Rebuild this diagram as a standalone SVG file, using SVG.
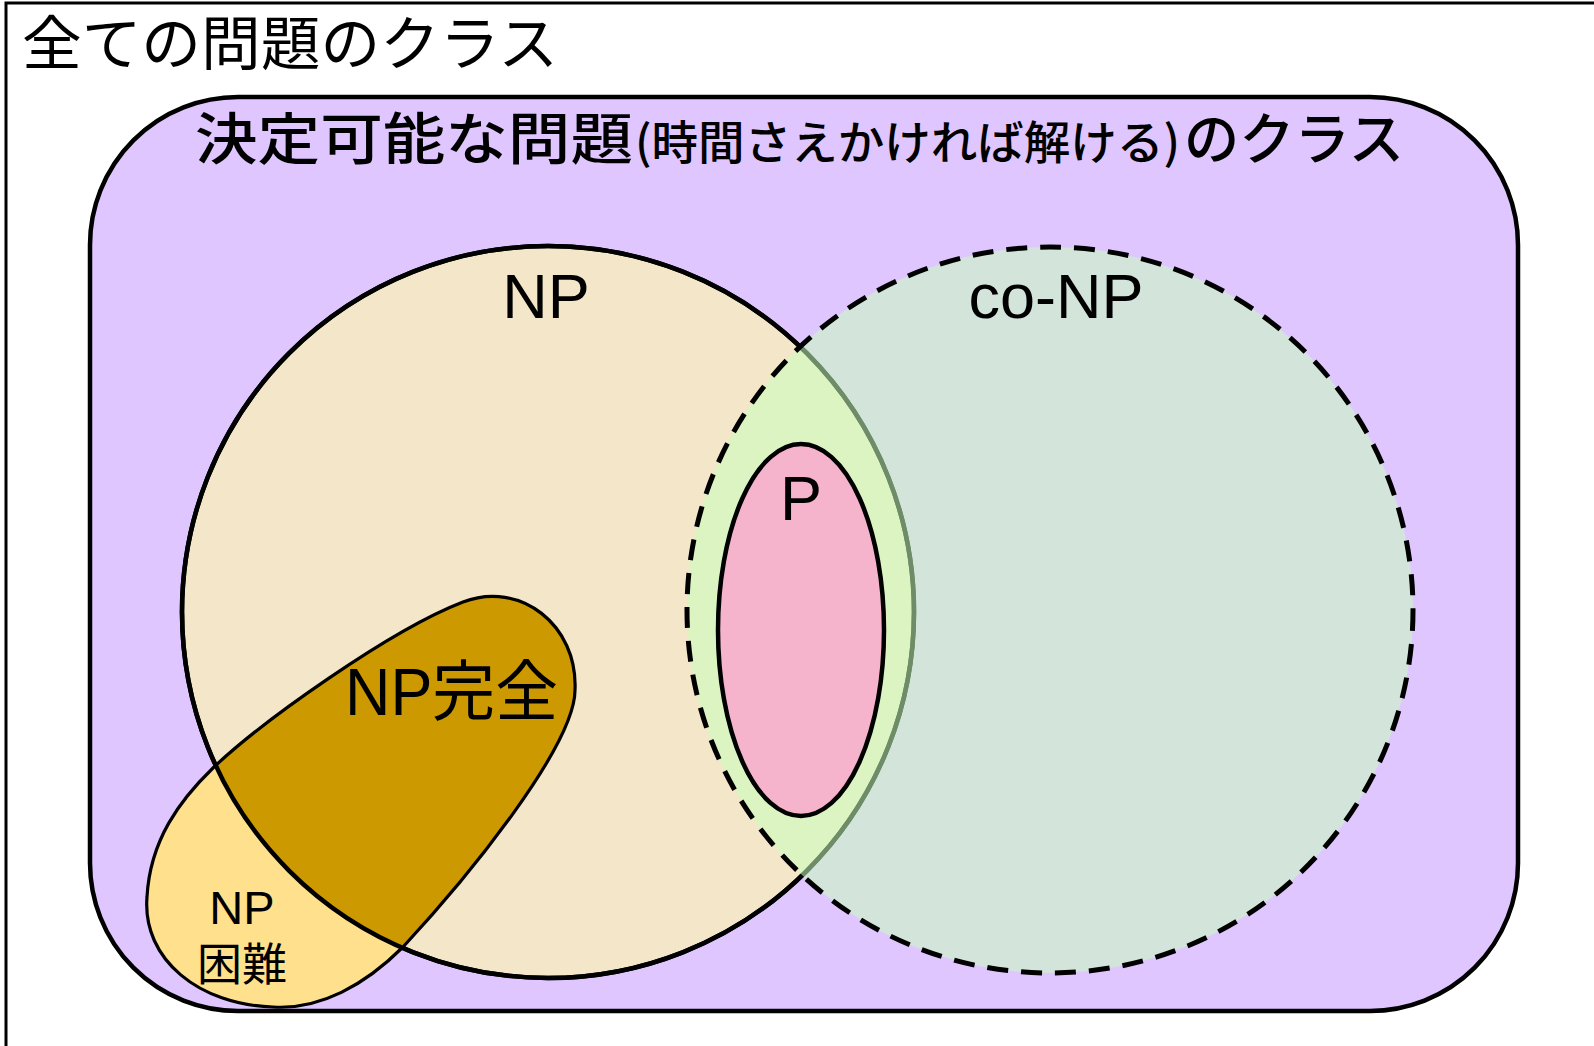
<svg xmlns="http://www.w3.org/2000/svg" width="1594" height="1046" viewBox="0 0 1594 1046">
  <style>
    .jp { font-family: "Noto Sans CJK JP", "Liberation Sans", sans-serif; fill: #000; }
    .lat { font-family: "Liberation Sans", "Noto Sans CJK JP", sans-serif; fill: #000; }
    .sub { font-weight: 500; }
    .ln { stroke: #000; stroke-width: 4.5; }
  </style>
  <defs>
    <clipPath id="npClip">
      <circle cx="548" cy="612" r="366"/>
    </clipPath>
    <path id="blobShape" d="M 463,602 C 520,580 578,625 575,690 C 575,745 470,875 403,947 C 365,985 320,1010 273,1007 C 200,1005 142,960 147,897 C 150,840 180,800 213,768 C 260,723 390,630 463,602 Z"/>
  </defs>

  <rect width="1594" height="1046" fill="#ffffff"/>

  <g id="frame">
    <path d="M 6,1046 V 3 H 1594" fill="none" stroke="#000" stroke-width="3"/>
    <text class="jp" x="22" y="65" font-size="59" textLength="536" lengthAdjust="spacingAndGlyphs">全ての問題のクラス</text>
  </g>

  <g id="decidable">
    <rect x="90" y="97" width="1428" height="914" rx="148" ry="148" fill="#DFC6FF" class="ln"/>
    <text class="jp sub" x="195" y="159" font-size="56" textLength="438" lengthAdjust="spacingAndGlyphs">決定可能な問題</text>
    <text class="jp sub" x="635" y="159" font-size="46" textLength="545" lengthAdjust="spacingAndGlyphs">(時間さえかければ解ける)</text>
    <text class="jp sub" x="1184" y="159" font-size="56" textLength="220" lengthAdjust="spacingAndGlyphs">のクラス</text>
  </g>

  <g id="NP">
    <circle cx="548" cy="612" r="366" fill="#F4E6C8" class="ln"/>
  </g>

  <g id="NP-hard">
    <use href="#blobShape" fill="#FFE08C"/>
  </g>

  <g id="NP-complete">
    <use href="#blobShape" fill="#CC9900" clip-path="url(#npClip)"/>
  </g>

  <g id="outlines">
    <use href="#blobShape" fill="none" stroke="#000" stroke-width="3.2"/>
    <circle cx="548" cy="612" r="366" fill="none" class="ln"/>
  </g>

  <g id="co-NP">
    <circle cx="1050" cy="610" r="363" fill="#C9FFBC" fill-opacity="0.55" stroke="#000" stroke-width="5" stroke-dasharray="21 13"/>
  </g>

  <g id="P">
    <ellipse cx="801" cy="630" rx="83" ry="186" fill="#F5B4CC" class="ln"/>
  </g>

  <g id="labels">
    <text class="lat" x="546" y="318" font-size="63" text-anchor="middle">NP</text>
    <text class="lat" x="1056" y="318" font-size="63" text-anchor="middle">co-NP</text>
    <text class="lat" x="801" y="520" font-size="63" text-anchor="middle">P</text>
    <text class="lat" x="345" y="715" font-size="66" textLength="213" lengthAdjust="spacingAndGlyphs">NP完全</text>
    <text class="lat" x="242" y="924" font-size="47" text-anchor="middle">NP</text>
    <text class="jp" x="242" y="981" font-size="45" text-anchor="middle">困難</text>
  </g>
</svg>
